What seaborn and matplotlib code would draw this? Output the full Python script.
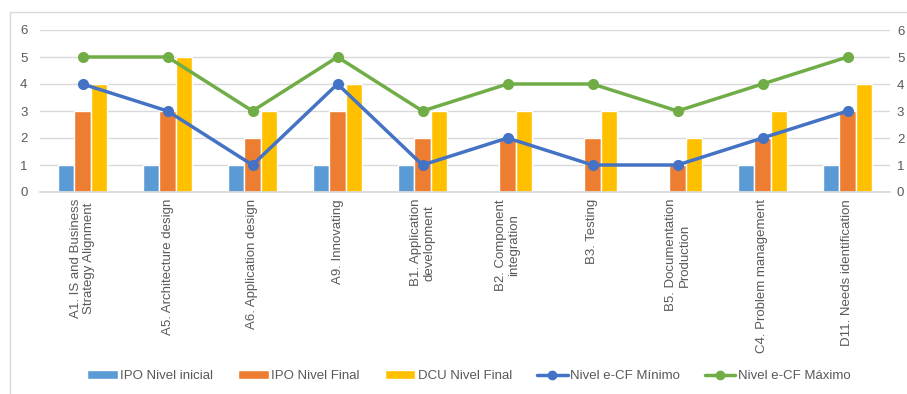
import matplotlib
matplotlib.use("Agg")
import matplotlib.pyplot as plt
import seaborn as sns
import pandas as pd
from matplotlib.patches import Rectangle, Patch
from matplotlib.lines import Line2D

categories = [
    "A1. IS and Business\nStrategy Alignment",
    "A5. Architecture design",
    "A6. Application design",
    "A9. Innovating",
    "B1. Application\ndevelopment",
    "B2. Component\nintegration",
    "B3. Testing",
    "B5. Documentation\nProduction",
    "C4. Problem management",
    "D11. Needs identification",
]
ipo_inicial = [1, 1, 1, 1, 1, 0, 0, 0, 1, 1]
ipo_final = [3, 3, 2, 3, 2, 2, 2, 1, 2, 3]
dcu_final = [4, 5, 3, 4, 3, 3, 3, 2, 3, 4]
ecf_min = [4, 3, 1, 4, 1, 2, 1, 1, 2, 3]
ecf_max = [5, 5, 3, 5, 3, 4, 4, 3, 4, 5]
bar_series = ["IPO Nivel inicial", "IPO Nivel Final", "DCU Nivel Final"]
line_series = ["Nivel e-CF Mínimo", "Nivel e-CF Máximo"]
yticks = [0, 1, 2, 3, 4, 5, 6]

bar_colors = ["#5B9BD5", "#ED7D31", "#FFC000"]
line_colors = ["#4472C4", "#70AD47"]

sns.set_theme(style="white")
plt.rcParams["font.family"] = ["Liberation Sans", "DejaVu Sans"]

bars = pd.DataFrame({
    "cat": categories * 3,
    "val": ipo_inicial + ipo_final + dcu_final,
    "serie": [s for s in bar_series for _ in categories],
})
lines = pd.DataFrame({
    "cat": categories * 2,
    "val": ecf_min + ecf_max,
    "serie": [s for s in line_series for _ in categories],
})

fig = plt.figure(figsize=(9.07, 3.94), dpi=100)
fig.patches.append(Rectangle((10 / 907, -0.1), 1.2, 1 - 12 / 394 + 0.1,
                             transform=fig.transFigure, fill=False,
                             edgecolor="#D9D9D9", linewidth=1))
ax = fig.add_axes([40 / 907, 1 - 192 / 394, 850 / 907, 162 / 394])

sns.barplot(data=bars, x="cat", y="val", hue="serie", palette=bar_colors,
            width=0.58, gap=0, ax=ax, legend=False, errorbar=None,
            saturation=1)
sns.lineplot(data=lines, x="cat", y="val", hue="serie", palette=line_colors,
             marker="o", markersize=8, markeredgewidth=0, linewidth=2.5,
             ax=ax, legend=False, sort=False)

ax.set_xlim(-0.5, len(categories) - 0.5)
ax.set_ylim(0, 6)
ax.set_yticks(yticks)
ax.set_xlabel("")
ax.set_ylabel("")
ax.yaxis.grid(True, color="#D9D9D9", linewidth=1)
ax.set_axisbelow(True)
for s in ["top", "right", "left"]:
    ax.spines[s].set_visible(False)
ax.spines["bottom"].set_color("#D9D9D9")
ax.tick_params(axis="both", length=0, colors="#595959", labelsize=9.5)
ax.tick_params(axis="y", pad=9)
ax.set_xticks(range(len(categories)))
ax.set_xticklabels(categories, rotation=90, ha="center", va="top",
                   multialignment="center", color="#595959", fontsize=9.5)
ax.tick_params(axis="x", pad=5)

ax2 = ax.twinx()
ax2.set_ylim(0, 6)
ax2.set_yticks(yticks)
for s in ax2.spines.values():
    s.set_visible(False)
ax2.tick_params(axis="y", length=0, colors="#595959", labelsize=9.5, pad=5)

handles = [Patch(facecolor=c, label=l) for c, l in zip(bar_colors, bar_series)]
handles += [Line2D([0], [0], color=c, marker="o", markersize=6, linewidth=2.5,
                   label=l) for c, l in zip(line_colors, line_series)]
fig.legend(handles=handles, loc="center", bbox_to_anchor=(469 / 907, 1 - 376 / 394),
           ncol=5, frameon=False, fontsize=9.5, handlelength=2.3,
           handleheight=0.6, columnspacing=1.9, handletextpad=0.2,
           labelcolor="#595959")

fig.savefig("out.png", dpi=100)
